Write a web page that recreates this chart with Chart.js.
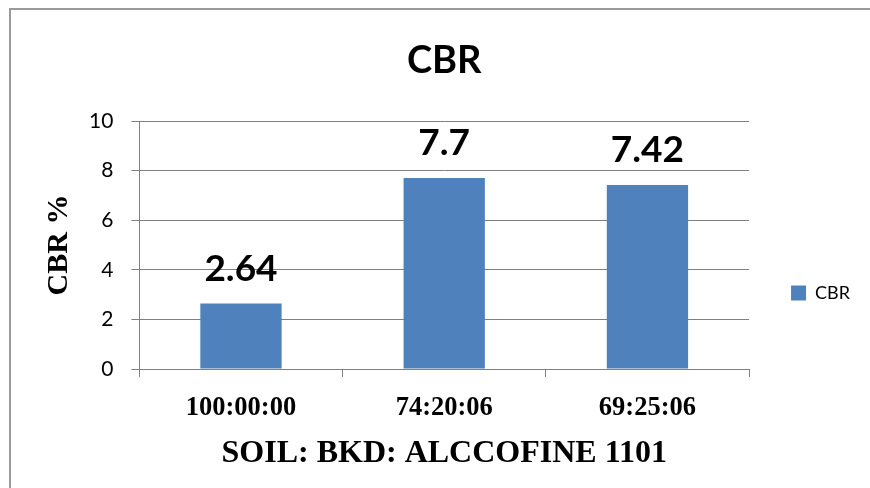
<!DOCTYPE html>
<html>
<head>
<meta charset="utf-8">
<script src="https://cdn.jsdelivr.net/npm/chart.js@4"></script>
<style>
  body { margin: 0; background: #fff; }
  #wrap { position: relative; width: 870px; height: 488px; overflow: hidden; }
  #frame { position: absolute; left: 9px; top: 8px; width: 900px; height: 500px;
           border-left: 2px solid #9a9a9a; border-top: 2px solid #9a9a9a; }
  #myChart { position: absolute; left: 0; top: 0; }
</style>
</head>
<body>
<div id="wrap">
  <div id="frame"></div>
  <canvas id="myChart" width="870" height="488"></canvas>
</div>
<script>
var categorias = ['100:00:00', '74:20:06', '69:25:06'];
var valoresCBR = [2.64, 7.7, 7.42];
var ticksY = [0, 2, 4, 6, 8, 10];

var corBarra = '#4F81BD';
var corGrade = '#808080';

// rótulos de valor em cima das barras
var rotulosBarras = {
    id: 'rotulosBarras',
    afterDatasetsDraw: function(chart) {
        var ctx = chart.ctx;
        var meta = chart.getDatasetMeta(0);
        ctx.save();
        ctx.font = 'bold 37px Lato';
        ctx.fillStyle = '#000';
        ctx.textAlign = 'center';
        ctx.textBaseline = 'alphabetic';
        meta.data.forEach(function(bar, i) {
            ctx.fillText(String(valoresCBR[i]), bar.x, bar.y - 23);
        });
        ctx.restore();
    }
};

var ctx = document.getElementById('myChart').getContext('2d');
var myChart = new Chart(ctx, {
    type: 'bar',
    data: {
        labels: categorias,
        datasets: [{
            label: 'CBR',
            data: valoresCBR,
            backgroundColor: corBarra,
            borderWidth: 0,
            barPercentage: 0.4,
            categoryPercentage: 1
        }]
    },
    options: {
        responsive: false,
        animation: false,
        layout: { padding: { top: 0, left: 10, right: 10, bottom: 15.6 } },
        plugins: {
            title: {
                display: true,
                text: 'CBR',
                fullSize: false,
                color: '#000',
                font: { family: 'Lato', size: 38, weight: 'bold' },
                padding: { top: 38.2, bottom: 37.2 }
            },
            legend: {
                position: 'right',
                align: 'start',
                fullSize: false,
                title: {
                    display: true,
                    text: ' ',
                    font: { size: 10 },
                    padding: { top: 109, bottom: 0 }
                },
                labels: {
                    boxWidth: 15,
                    boxHeight: 15,
                    padding: 42,
                    color: '#000',
                    font: { family: 'Lato', size: 18 }
                }
            },
            tooltip: { enabled: false }
        },
        scales: {
            x: {
                grid: {
                    offset: true,
                    drawOnChartArea: false,
                    drawTicks: true,
                    tickLength: 8,
                    color: corGrade
                },
                border: { color: corGrade },
                ticks: {
                    color: '#000',
                    padding: 16.5,
                    font: { family: 'Liberation Serif', size: 26.5, weight: 'bold', lineHeight: 1.13 }
                },
                title: {
                    display: true,
                    text: 'SOIL: BKD: ALCCOFINE 1101',
                    color: '#000',
                    font: { family: 'Liberation Serif', size: 32, weight: 'bold', lineHeight: 0.8 },
                    padding: { top: 1, bottom: 5.8 }
                }
            },
            y: {
                min: 0,
                max: 10,
                afterBuildTicks: function(scale) {
                    scale.ticks = ticksY.map(function(v) { return { value: v }; });
                },
                grid: {
                    color: corGrade,
                    tickLength: 8
                },
                border: { color: corGrade },
                ticks: {
                    color: '#000',
                    padding: 18,
                    font: { family: 'Lato', size: 21 }
                },
                title: {
                    display: true,
                    text: 'CBR %',
                    color: '#000',
                    font: { family: 'Liberation Serif', size: 30, weight: 'bold', lineHeight: 0.8 },
                    padding: { top: 37, bottom: 0 }
                }
            }
        }
    },
    plugins: [rotulosBarras]
});
</script>
</body>
</html>
